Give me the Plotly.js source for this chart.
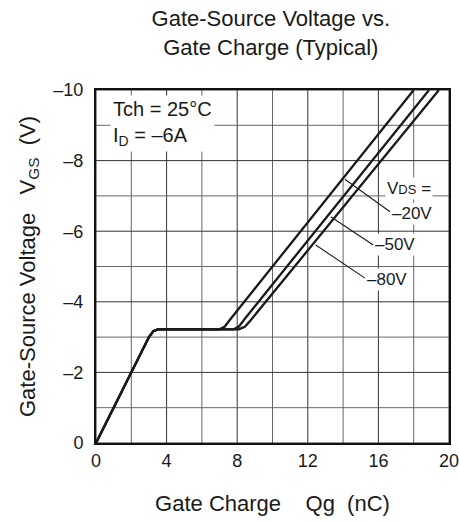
<!DOCTYPE html>
<html>
<head>
<meta charset="utf-8">
<script src="https://cdn.plot.ly/plotly-3.0.1.min.js"></script>
<style>html,body{margin:0;padding:0;background:#fff;}#chart{width:459px;height:523px;}</style>
</head>
<body>
<div id="chart"></div>
<script>
// ---- data ----
var qg20 = [0, 3.0, 3.25, 3.5, 7.0, 7.3, 7.6, 18.0];
var vgs20 = [0, -3.0, -3.17, -3.22, -3.22, -3.3, -3.5, -10];
var qg50 = [0, 3.0, 3.25, 3.5, 7.8, 8.1, 8.4, 18.87];
var vgs50 = [0, -3.0, -3.17, -3.22, -3.22, -3.3, -3.5, -10];
var qg80 = [0, 3.0, 3.25, 3.5, 8.1, 8.45, 8.8, 19.43];
var vgs80 = [0, -3.0, -3.17, -3.22, -3.22, -3.3, -3.5, -10];
var seriesNames = ['–20V', '–50V', '–80V'];

// grid positions and their tick labels (blank = grid line only)
var xTickVals = [0, 2, 4, 6, 8, 10, 12, 14, 16, 18, 20];
var xTickText = ['0', '', '4', '', '8', '', '12', '', '16', '', '20'];
var yTickVals = [0, -1, -2, -3, -4, -5, -6, -7, -8, -9, -10];
var yTickText = ['0', '', '–2', '', '–4', '', '–6', '', '–8', '', '–10'];

// label anchor points (data units) and leader lines
var labelX = [17.88, 16.94, 16.47];
var labelY = [-6.51, -5.61, -4.62];
var leadStartX = [14.1, 13.3, 12.45];
var leadStartY = [-7.47, -6.41, -5.61];
var leadEndX = [16.66, 15.71, 15.24];
var leadEndY = [-6.55, -5.61, -4.67];

var FONT = 'Liberation Sans, Arial, Helvetica, sans-serif';
var INK = '#1a1a1a';

var traces = [
  {x: qg20, y: vgs20, name: seriesNames[0], mode: 'lines', line: {color: INK, width: 2.3}, hoverinfo: 'skip'},
  {x: qg50, y: vgs50, name: seriesNames[1], mode: 'lines', line: {color: INK, width: 2.3}, hoverinfo: 'skip'},
  {x: qg80, y: vgs80, name: seriesNames[2], mode: 'lines', line: {color: INK, width: 2.3}, hoverinfo: 'skip'}
];

var annotations = [
  {x: 0.8, y: -9.05, xref: 'x', yref: 'y', xanchor: 'left', yanchor: 'middle', align: 'left',
   text: 'Tch = 25°C<br>I<sub>D</sub> = –6A', showarrow: false, bgcolor: '#fff', borderpad: 2,
   font: {family: FONT, size: 20, color: INK}},
  {x: 17.74, y: -7.2, xref: 'x', yref: 'y', xanchor: 'center', yanchor: 'middle',
   text: 'V<span style="font-size:13px">DS</span> =', showarrow: false, bgcolor: '#fff', borderpad: 1,
   font: {family: FONT, size: 17, color: INK}}
];
for (var i = 0; i < seriesNames.length; i++) {
  annotations.push({x: labelX[i], y: labelY[i], xref: 'x', yref: 'y', xanchor: 'center', yanchor: 'middle',
    text: seriesNames[i], showarrow: false, bgcolor: '#fff', borderpad: 1,
    font: {family: FONT, size: 17, color: INK}});
}

// grid lines built from the tick arrays (labelled = major, blank = minor)
var shapes = [];
xTickVals.forEach(function (v, k) {
  shapes.push({type: 'line', layer: 'below', xref: 'x', yref: 'paper', x0: v, x1: v, y0: 0, y1: 1,
    line: {color: xTickText[k] ? '#333' : '#666', width: 1}});
});
yTickVals.forEach(function (v, k) {
  shapes.push({type: 'line', layer: 'below', xref: 'paper', yref: 'y', x0: 0, x1: 1, y0: v, y1: v,
    line: {color: yTickText[k] ? '#333' : '#666', width: 1}});
});
for (var j = 0; j < seriesNames.length; j++) {
  shapes.push({type: 'line', xref: 'x', yref: 'y', x0: leadStartX[j], y0: leadStartY[j],
    x1: leadEndX[j], y1: leadEndY[j], line: {color: INK, width: 1.1}, layer: 'above'});
}

var layout = {
  width: 459, height: 523,
  margin: {l: 96, r: 10, t: 90, b: 80},
  paper_bgcolor: '#fff', plot_bgcolor: '#fff',
  showlegend: false,
  font: {family: FONT, size: 18, color: INK},
  title: {text: 'Gate-Source Voltage vs.<br>Gate Charge (Typical)', x: 0.59, xanchor: 'center',
          y: 0.95, yref: 'container', yanchor: 'middle', font: {family: FONT, size: 22, color: INK}},
  xaxis: {range: [0, 20], tickmode: 'array', tickvals: xTickVals, ticktext: xTickText,
          showgrid: false, zeroline: false,
          showline: true, linecolor: '#111', linewidth: 2, mirror: true,
          ticks: '', ticklabeloverflow: 'allow',
          tickfont: {family: FONT, size: 18, color: INK},
          title: {text: 'Gate Charge\u00a0\u00a0\u00a0\u00a0Qg\u00a0\u00a0(nC)', standoff: 26,
                  font: {family: FONT, size: 22, color: INK}}},
  yaxis: {range: [0, -10], autorange: false, tickmode: 'array', tickvals: yTickVals, ticktext: yTickText,
          showgrid: false, zeroline: false,
          showline: true, linecolor: '#111', linewidth: 2, mirror: true,
          ticks: 'outside', ticklen: 7, tickcolor: 'rgba(0,0,0,0)',
          tickfont: {family: FONT, size: 18, color: INK},
          title: {text: 'Gate-Source Voltage\u00a0\u00a0\u00a0V<sub>GS</sub>\u00a0\u00a0(V)', standoff: 12,
                  font: {family: FONT, size: 22, color: INK}}},
  annotations: annotations,
  shapes: shapes
};

Plotly.newPlot('chart', traces, layout, {staticPlot: true, displayModeBar: false});
</script>
</body>
</html>
